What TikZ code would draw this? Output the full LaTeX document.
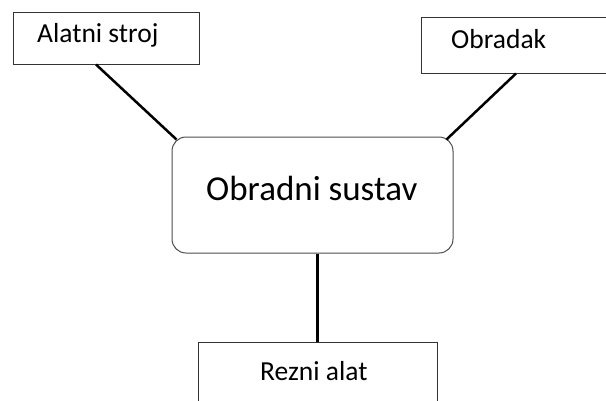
\documentclass[tikz,border=0pt]{standalone}
\usepackage{fontspec}
\setmainfont{Carlito}
\usetikzlibrary{calc}
\tikzset{
  box/.style = {draw=black!80, line width=1pt, inner sep=0pt},
  roundbox/.style = {box, draw=black!70, rounded corners=14pt},
  name text/.style = {anchor=base west, inner sep=0pt, font=\fontsize{27.5}{32}\selectfont},
  big text/.style = {name text, font=\fontsize{35}{40}\selectfont},
  link/.style = {line width=2.5pt}
}

\begin{document}
\begin{tikzpicture}[x=1pt, y=-1pt]
  \useasboundingbox (0,0) rectangle (606,400);
  \clip (0,0) rectangle (606,400);
  % boxes
  \node[box, minimum width=186pt, minimum height=52pt] (stroj) at (106,38) {};
  \node[box, minimum width=198pt, minimum height=56pt] (obradak) at (520,45) {};
  \node[roundbox, minimum width=281pt, minimum height=116pt] (sustav) at (312.5,195) {};
  \node[box, minimum width=239pt, minimum height=78pt] (rezni) at (317.5,381) {};
  % texts
  \node[name text] (t1) at (37,42) {Alatni stroj};
  \node[name text] (t2) at (451,48) {Obradak};
  \node[big text] (t3) at (206,200) {Obradni sustav};
  \node[name text] (t4) at (260,380) {Rezni alat};
  % links
  \draw[link] ([xshift=-10pt]stroj.south) -- ([xshift=5pt,yshift=-3pt]sustav.north west);
  \draw[link] ([xshift=-4pt]obradak.south) -- ([xshift=-7pt,yshift=-3pt]sustav.north east);
  \draw[link] (rezni.north |- sustav.south) -- (rezni.north);
\end{tikzpicture}
\end{document}
